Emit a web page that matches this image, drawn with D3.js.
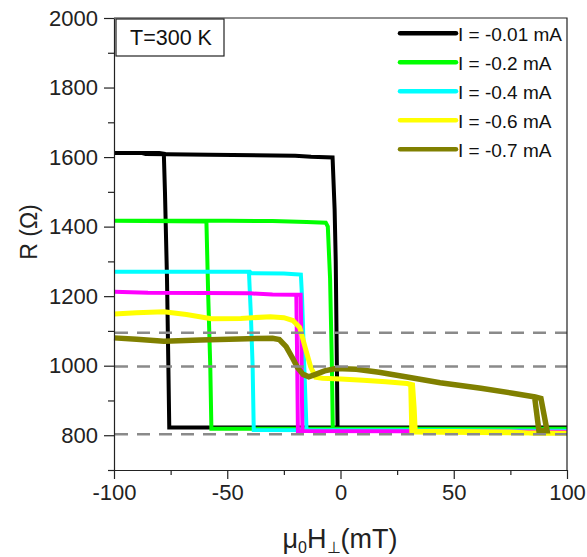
<!DOCTYPE html>
<html>
<head>
<meta charset="utf-8">
<script src="https://cdn.jsdelivr.net/npm/d3@7/dist/d3.min.js"></script>
<style>
  html, body { margin: 0; padding: 0; background: #fff; }
  svg { display: block; }
  text { font-family: "Liberation Sans", Arial, sans-serif; }
</style>
</head>
<body>
<svg id="chart" width="587" height="557"></svg>
<script>
// ---------- data (H in mT, R in Ohm) ----------
const blackLoop = [
  [-100,1612],[-88,1612],[-86,1609],[-58,1607],[-20,1604],[-13,1601],[-3.5,1599],
  [-2.6,1450],[-2.1,1300],[-1.6,1000],[-1.3,822],[100,822],
  [100,822],[-75.6,822],[-76,1000],[-76.6,1250],[-77.5,1500],[-78,1610],[-80,1612],[-100,1612]
];
const greenLoop = [
  [-100,1417],[-75,1417],[-50,1417],[-30,1416],[-15,1413],[-6.5,1411],
  [-5.6,1400],[-4.6,1250],[-3.8,1000],[-3.4,819],[100,819],
  [100,819],[-57,819],[-57.5,1000],[-58.4,1200],[-59.2,1415],[-100,1417]
];
const cyanLoop = [
  [-100,1270],[-70,1270],[-40,1270],[-39.5,1266],[-25,1265],[-20,1263],[-17.5,1262],
  [-17,1200],[-16,1000],[-15,815],[100,813],
  [100,813],[-38.3,815],[-38.8,1000],[-39.6,1150],[-40.4,1266],[-41,1270],[-100,1270]
];
const magentaLoop = [
  [-100,1213],[-85,1210],[-60,1209],[-40,1208],[-30,1205],[-20,1204],[-17.6,1204],
  [-17.3,1100],[-17,900],[-16.8,812],[100,810],
  [100,810],[-18.8,812],[-19.1,1000],[-19.5,1200],[-20,1204]
];
const yellowLoop = [
  [-100,1149],[-90,1152],[-78,1155],[-68,1147],[-57,1135],[-44,1136],[-31,1141],[-25,1138],
  [-21,1130],[-18,1110],[-15.5,1050],[-13.2,997],[-11,967],[-8,964],[0,962],[10,958],
  [20,954],[29.4,949],[31.8,945],[32.5,880],[33,811],[50,811],[75,809],[85,806],[100,806],
  [100,806],[31.5,809],[31,945],[29.4,949]
];
const oliveLoop = [
  [-100,1080],[-90,1076],[-78,1070],[-62,1074],[-45,1077],[-30,1079],[-27,1075],
  [-24,1055],[-21,1020],[-19,995],[-16.5,975],[-14,968],[-11,975],[-7,985],[-2,992],
  [7,990],[17,981],[30,967],[44,951],[62,935],[76,921],[86,910],[88.5,906],[91.2,813],
  [87.6,813],[85.8,905]
];

const legendLabels = ["I = -0.01 mA", "I = -0.2 mA", "I = -0.4 mA", "I = -0.6 mA", "I = -0.7 mA"];
const legendColors = ["#000000", "#00ff00", "#00ffff", "#ffff00", "#808000"];
const refLevels = [1095, 998, 803];
const xMajorTicks = [-100, -50, 0, 50, 100];
const xMinorTicks = [-75, -25, 25, 75];
const yMajorTicks = [800, 1000, 1200, 1400, 1600, 1800, 2000];
const yMinorTicks = [700, 900, 1100, 1300, 1500, 1700, 1900];

// draw order: black first (bottom), olive last
const series = [
  { pts: blackLoop,   color: "#000000", w: 4 },
  { pts: greenLoop,   color: "#00ff00", w: 4 },
  { pts: cyanLoop,    color: "#00ffff", w: 4 },
  { pts: magentaLoop, color: "#ff00ff", w: 4 },
  { pts: yellowLoop,  color: "#ffff00", w: 5 },
  { pts: oliveLoop,   color: "#808000", w: 5.5 }
];

// ---------- layout ----------
const svg = d3.select("#chart");
const L = 114, R = 567, T = 18, B = 470;
const x = d3.scaleLinear().domain([-100, 100]).range([L, R]);
const y = d3.scaleLinear().domain([700, 2000]).range([B, T]);

// data lines
const line = d3.line().x(d => x(d[0])).y(d => y(d[1]));
const gData = svg.append("g");
series.forEach(s => {
  gData.append("path")
    .attr("d", line(s.pts))
    .attr("fill", "none")
    .attr("stroke", s.color)
    .attr("stroke-width", s.w)
    .attr("stroke-linejoin", "miter")
    .attr("stroke-miterlimit", 3);
});

// dashed reference lines
svg.append("g").selectAll("line").data(refLevels).join("line")
  .attr("x1", L + 1).attr("x2", R)
  .attr("y1", d => y(d)).attr("y2", d => y(d))
  .attr("stroke", "#8a8a8a").attr("stroke-width", 2.5)
  .attr("stroke-dasharray", "13,9");

// frame (top and right)
svg.append("path")
  .attr("d", `M${L},${T}H${R}V${B}`)
  .attr("fill", "none").attr("stroke", "#222").attr("stroke-width", 1.2);

// axes
const fontSize = 22;
const fmt = d => String(d);
const xAxis = svg.append("g").attr("transform", `translate(0,${B})`)
  .call(d3.axisBottom(x).tickValues(xMajorTicks).tickSize(9).tickSizeOuter(0).tickPadding(5)
        .tickFormat(fmt));
svg.append("g").attr("transform", `translate(0,${B})`)
  .call(d3.axisBottom(x).tickValues(xMinorTicks).tickSize(5).tickSizeOuter(0).tickFormat(""))
  .select(".domain").remove();
const yAxis = svg.append("g").attr("transform", `translate(${L},0)`)
  .call(d3.axisLeft(y).tickValues(yMajorTicks).tickSize(10).tickSizeOuter(0).tickPadding(6)
        .tickFormat(fmt));
svg.append("g").attr("transform", `translate(${L},0)`)
  .call(d3.axisLeft(y).tickValues(yMinorTicks).tickSize(6).tickSizeOuter(0).tickFormat(""))
  .select(".domain").remove();

svg.selectAll(".domain").attr("stroke", "#222").attr("stroke-width", 1.2);
svg.selectAll(".tick line").attr("stroke", "#222").attr("stroke-width", 1.2);
svg.selectAll(".tick text")
  .attr("font-family", '"Liberation Sans", Arial, sans-serif')
  .attr("font-size", fontSize).attr("fill", "#222");
xAxis.selectAll(".tick text").attr("dy", "0.74em");

// axis titles
svg.append("text")
  .attr("transform", "translate(29,232) rotate(-90)")
  .attr("text-anchor", "middle").attr("dominant-baseline", "central")
  .attr("font-size", 23).attr("fill", "#222")
  .text("R (Ω)");

const xt = svg.append("text")
  .attr("x", 340).attr("y", 548).attr("text-anchor", "middle")
  .attr("font-size", 27).attr("fill", "#222");
xt.append("tspan").text("μ");
xt.append("tspan").attr("font-size", 16).attr("dy", 5).text("0");
xt.append("tspan").attr("dy", -5).text("H");
xt.append("tspan").attr("font-size", 16).attr("dy", 5).text("⊥");
xt.append("tspan").attr("dy", -5).text("(mT)");

// temperature label box
svg.append("rect")
  .attr("x", 116).attr("y", 19).attr("width", 108).attr("height", 37)
  .attr("fill", "#fff").attr("stroke", "#222").attr("stroke-width", 1.2);
svg.append("text")
  .attr("x", 171).attr("y", 44.5).attr("text-anchor", "middle")
  .attr("font-size", 21.5).attr("fill", "#111")
  .text("T=300 K");

// legend
const lg = svg.append("g");
legendLabels.forEach((lab, i) => {
  const yy = 33.3 + i * 29;
  lg.append("line")
    .attr("x1", 400).attr("x2", 456).attr("y1", yy).attr("y2", yy)
    .attr("stroke", legendColors[i]).attr("stroke-width", 4.5)
    .attr("stroke-linecap", "round");
  lg.append("text")
    .attr("x", 458).attr("y", yy + 7.5)
    .attr("font-size", 19).attr("fill", "#111")
    .text(lab);
});
</script>
</body>
</html>
